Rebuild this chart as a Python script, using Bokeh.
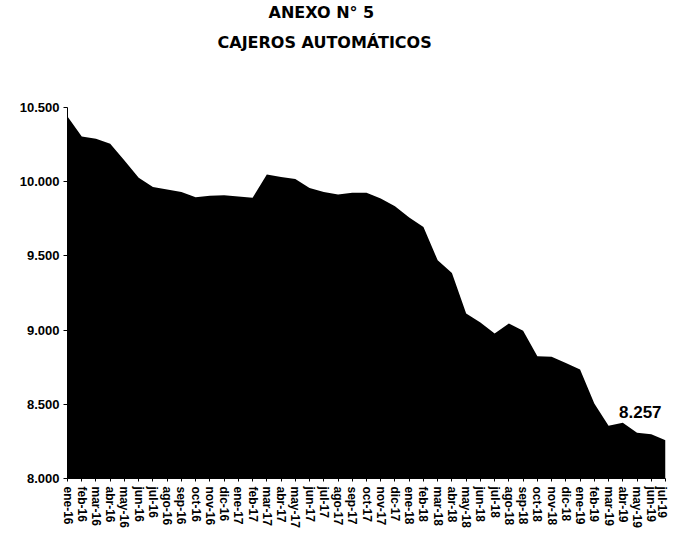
import math
from bokeh.plotting import figure
from bokeh.models import Range1d, FixedTicker, Label, Title
from bokeh.embed import file_html
from bokeh.resources import INLINE

months = ["ene-16", "feb-16", "mar-16", "abr-16", "may-16", "jun-16", "jul-16", "ago-16",
          "sep-16", "oct-16", "nov-16", "dic-16", "ene-17", "feb-17", "mar-17", "abr-17",
          "may-17", "jun-17", "jul-17", "ago-17", "sep-17", "oct-17", "nov-17", "dic-17",
          "ene-18", "feb-18", "mar-18", "abr-18", "may-18", "jun-18", "jul-18", "ago-18",
          "sep-18", "oct-18", "nov-18", "dic-18", "ene-19", "feb-19", "mar-19", "abr-19",
          "may-19", "jun-19", "jul-19"]
cajeros = [10440, 10305, 10289, 10256, 10143, 10027, 9964, 9948,
           9930, 9896, 9905, 9908, 9900, 9892, 10049, 10031,
           10018, 9957, 9930, 9914, 9926, 9926, 9886, 9834,
           9758, 9694, 9470, 9385, 9112, 9051, 8977, 9044,
           8995, 8824, 8820, 8779, 8735, 8506, 8355, 8375,
           8308, 8299, 8257]
y_ticks = [8000, 8500, 9000, 9500, 10000, 10500]
y_tick_labels = ["8.000", "8.500", "9.000", "9.500", "10.000", "10.500"]
title_1 = "ANEXO N° 5"
title_2 = "CAJEROS AUTOMÁTICOS"
last_label = "8.257"

FONT = "Liberation Sans"
TITLE_FONT = "DejaVu Sans"
xs = list(range(len(months)))

p = figure(width=668, height=530, output_backend="svg", toolbar_location=None,
           x_range=Range1d(0, len(months) - 1), y_range=Range1d(8000, 10500),
           min_border_left=67, min_border_right=3, min_border_bottom=40, min_border_top=0)
p.outline_line_color = None
p.xgrid.visible = False
p.ygrid.visible = False
p.background_fill_color = "white"
p.border_fill_color = "white"

p.varea(x=xs, y1=[8000] * len(xs), y2=cajeros, fill_color="black")

# spacer between the titles and the plot frame
p.add_layout(Title(text=" ", text_font=FONT, text_font_size="13px", standoff=30), "above")
p.add_layout(Title(text=title_2, align="left", offset=150, text_font=TITLE_FONT,
                   text_font_size="16px", text_font_style="bold", text_color="black",
                   standoff=17), "above")
p.add_layout(Title(text=title_1, align="left", offset=201, text_font=TITLE_FONT,
                   text_font_size="16px", text_font_style="bold", text_color="black",
                   standoff=1), "above")

p.yaxis.ticker = FixedTicker(ticks=y_ticks)
p.yaxis.major_label_overrides = {t: l for t, l in zip(y_ticks, y_tick_labels)}
p.yaxis.major_label_text_font = FONT
p.yaxis.major_label_text_font_size = "13px"
p.yaxis.major_label_text_font_style = "bold"
p.yaxis.major_label_text_color = "black"
p.yaxis.axis_line_color = "black"
p.yaxis.major_tick_line_color = "black"
p.yaxis.major_tick_out = 4
p.yaxis.major_tick_in = 0
p.yaxis.minor_tick_line_color = None
p.yaxis.major_label_standoff = 4

p.xaxis.ticker = FixedTicker(ticks=xs)
p.xaxis.major_label_overrides = {i: m for i, m in zip(xs, months)}
p.xaxis.major_label_orientation = -math.pi / 2
p.xaxis.major_label_text_font = FONT
p.xaxis.major_label_text_font_size = "12px"
p.xaxis.major_label_text_font_style = "bold"
p.xaxis.major_label_text_color = "black"
p.xaxis.axis_line_color = "black"
p.xaxis.major_tick_line_color = "black"
p.xaxis.major_tick_out = 3
p.xaxis.major_tick_in = 0
p.xaxis.minor_tick_line_color = None
p.xaxis.major_label_standoff = 5

p.add_layout(Label(x=xs[-3], y=cajeros[-1] + 150, text=last_label, text_align="left",
                   x_offset=-18, text_baseline="bottom", text_font=FONT, text_font_size="17px",
                   text_font_style="bold", text_color="black"))

open("out.html", "w").write(file_html(p, INLINE))
